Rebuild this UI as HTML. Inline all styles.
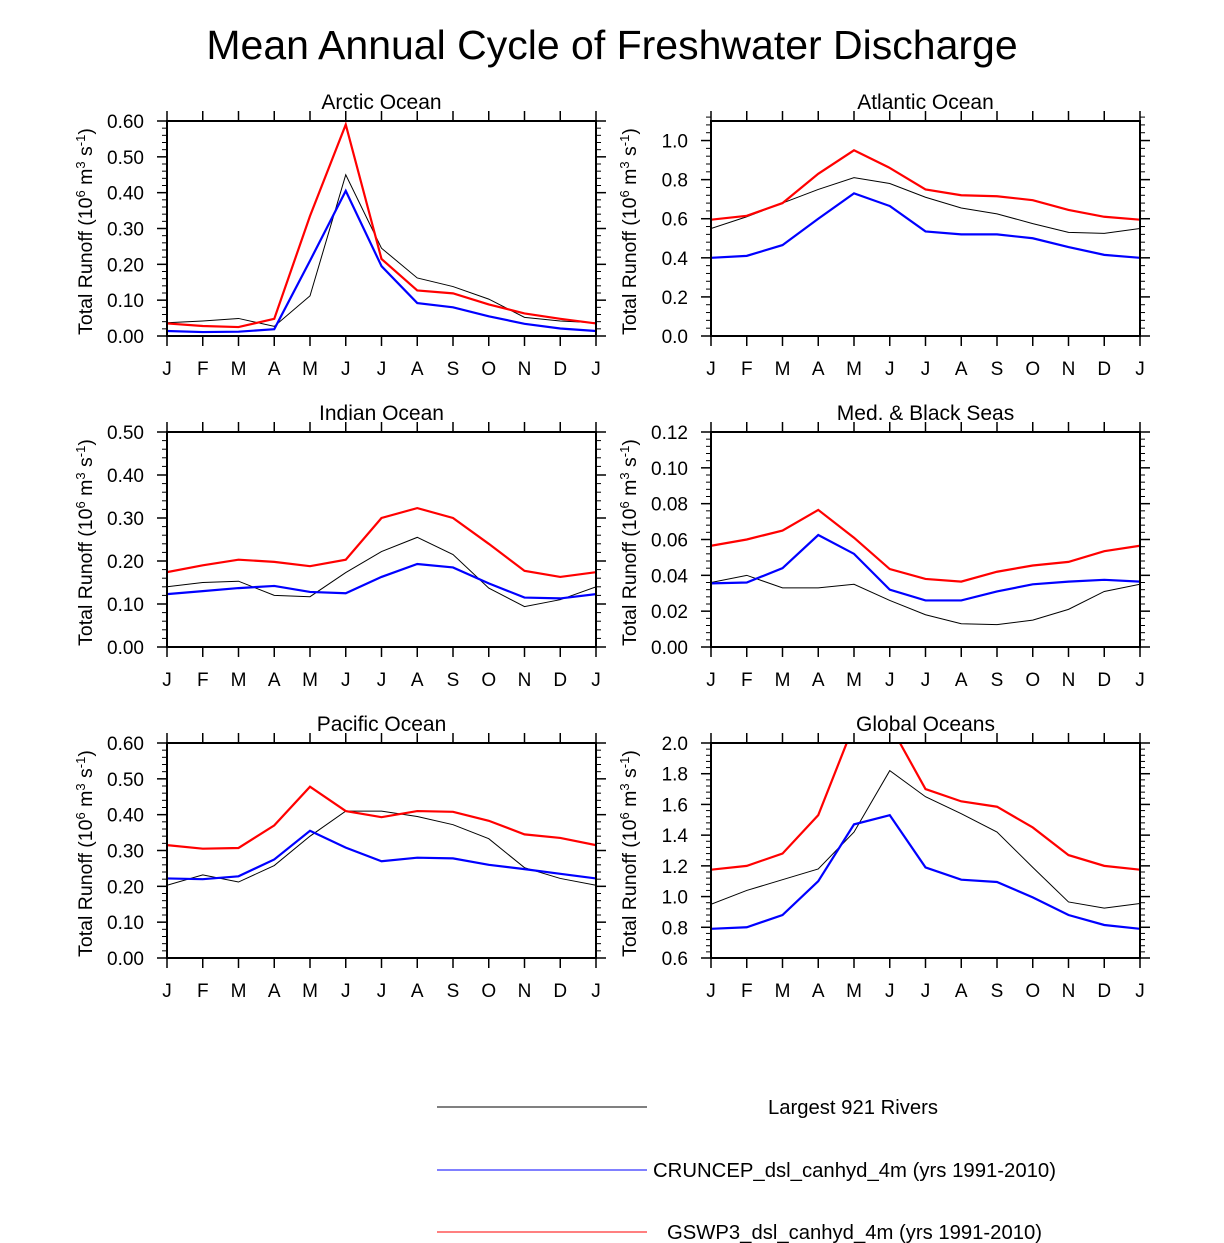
<!DOCTYPE html>
<html><head><meta charset="utf-8"><style>
body{margin:0;background:#fff}
svg{display:block;font-family:"Liberation Sans",sans-serif}
</style></head><body>
<svg id="c" width="1224" height="1243" viewBox="0 0 1224 1243">
<text x="612" y="59" font-size="41" text-anchor="middle">Mean Annual Cycle of Freshwater Discharge</text>
</svg>
<script>
const months=["J","F","M","A","M","J","J","A","S","O","N","D","J"];
const panelTitles=["Arctic Ocean","Atlantic Ocean","Indian Ocean","Med. & Black Seas","Pacific Ocean","Global Oceans"];
const yMins=[0,0,0,0,0,0.6];
const yMaxs=[0.6,1.1,0.5,0.12,0.6,2.0];
const yMajor=[0.1,0.2,0.1,0.02,0.1,0.2];
const yDec=[2,1,2,2,2,1];
const riversData=[
[.037,.042,.049,.027,.112,.45,.245,.162,.138,.103,.052,.042,.037],
[.55,.61,.68,.75,.81,.78,.71,.655,.625,.575,.53,.525,.55],
[.14,.15,.153,.12,.117,.173,.222,.255,.215,.137,.094,.11,.14],
[.036,.04,.033,.033,.035,.026,.018,.013,.0125,.015,.021,.031,.035],
[.203,.232,.212,.258,.34,.41,.41,.395,.372,.333,.252,.222,.203],
[.95,1.04,1.11,1.18,1.42,1.82,1.65,1.54,1.42,1.19,.965,.925,.955]];
const cruData=[
[.014,.011,.012,.019,.21,.405,.195,.092,.08,.055,.034,.021,.014],
[.40,.41,.465,.60,.73,.665,.535,.52,.52,.5,.455,.415,.40],
[.123,.13,.137,.142,.128,.125,.163,.193,.185,.148,.115,.113,.123],
[.0355,.036,.044,.0625,.052,.032,.026,.026,.031,.035,.0365,.0375,.0365],
[.222,.22,.228,.275,.355,.308,.27,.28,.278,.26,.248,.235,.222],
[.79,.80,.88,1.10,1.47,1.53,1.19,1.11,1.095,.995,.88,.815,.79]];
const gswData=[
[.035,.028,.025,.048,.335,.59,.215,.127,.119,.088,.063,.048,.035],
[.595,.615,.68,.83,.95,.86,.75,.72,.715,.695,.645,.61,.595],
[.174,.19,.203,.198,.188,.203,.3,.323,.3,.24,.177,.163,.174],
[.0565,.06,.065,.0765,.061,.0435,.038,.0365,.042,.0455,.0475,.0535,.0565],
[.315,.305,.307,.37,.478,.41,.393,.41,.408,.383,.345,.335,.315],
[1.175,1.20,1.28,1.53,2.12,2.12,1.70,1.62,1.585,1.45,1.27,1.2,1.175]];
const legendLabels=["Largest 921 Rivers","CRUNCEP_dsl_canhyd_4m (yrs 1991-2010)","GSWP3_dsl_canhyd_4m (yrs 1991-2010)"];

const NS="http://www.w3.org/2000/svg";
const svg=document.getElementById("c");
function mk(tag,attrs,parent){const e=document.createElementNS(NS,tag);for(const k in attrs)e.setAttribute(k,attrs[k]);(parent||svg).appendChild(e);return e;}
const lefts=[167,711], tops=[121,432,743], W=429, H=215;
for(let p=0;p<6;p++){
  const x0=lefts[p%2], y0=tops[Math.floor(p/2)];
  const g=mk("g",{});
  
  
  const xs=i=>x0+i*W/12;
  const ys=v=>y0+H-(v-yMins[p])/(yMaxs[p]-yMins[p])*H;
  const cid="clip"+p;
  const cp=mk("clipPath",{id:cid},g);mk("rect",{x:x0,y:y0,width:W,height:H},cp);
  const mi=yMajor[p]/5;
  const n=Math.round((yMaxs[p]-yMins[p])/mi);
  for(let k=0;k<=n;k++){
    const v=yMins[p]+k*mi, y=ys(v), maj=k%5===0, L=maj?10:5;
    mk("line",{x1:x0-L,x2:x0,y1:y,y2:y,stroke:"#000","stroke-width":maj?1.5:1},g);
    mk("line",{x1:x0+W,x2:x0+W+L,y1:y,y2:y,stroke:"#000","stroke-width":maj?1.5:1},g);
    if(maj){const t=mk("text",{x:x0-23,y:y+7,"font-size":19,"text-anchor":"end"},g);t.textContent=v.toFixed(yDec[p]);
      }
  }
  for(let i=0;i<13;i++){
    const x=xs(i);
    mk("line",{x1:x,x2:x,y1:y0+H,y2:y0+H+10,stroke:"#000","stroke-width":1.5},g);
    mk("line",{x1:x,x2:x,y1:y0-10,y2:y0,stroke:"#000","stroke-width":1.5},g);
    const t=mk("text",{x:x,y:y0+H+39,"font-size":19,"text-anchor":"middle"},g);t.textContent=months[i];
    
  }
  const tt=mk("text",{x:x0+W/2,y:y0-12,"font-size":21,"text-anchor":"middle"},g);tt.textContent=panelTitles[p];
  
  const yt=mk("text",{transform:`translate(${x0-75},${y0+H/2+3}) rotate(-90)`,"font-size":19.5,"text-anchor":"middle"},g);
  yt.innerHTML='Total Runoff (10<tspan dy="-7" font-size="13">6</tspan><tspan dy="7"> m</tspan><tspan dy="-7" font-size="13">3</tspan><tspan dy="7"> s</tspan><tspan dy="-7" font-size="13">-1</tspan><tspan dy="7">)</tspan>';
  
  const series=[[riversData[p],"#000",1],[cruData[p],"#0000ff",2.2],[gswData[p],"#ff0000",2.2]];
  const names=['line-rivers','line-cruncep','line-gswp3'];
  series.forEach((s,si)=>{
    const pl=mk("polyline",{points:s[0].map((v,i)=>xs(i)+","+ys(v)).join(" "),fill:"none",stroke:s[1],"stroke-width":s[2],"clip-path":`url(#${cid})`},g);
    
  });
  const fr=mk("rect",{x:x0,y:y0,width:W,height:H,fill:"none",stroke:"#000","stroke-width":2},g);
  
}
const legY=[1107,1170,1232], legCol=["#000","#0000ff","#ff0000"], legTx=[853,653,667], legAnchor=["middle","start","start"];
for(let i=0;i<3;i++){
  const g=mk("g",{});
  
  mk("line",{x1:437,x2:647,y1:legY[i],y2:legY[i],stroke:legCol[i],"stroke-width":1},g);
  const t=mk("text",{x:legTx[i],y:legY[i]+7,"font-size":20,"text-anchor":legAnchor[i],textLength:[170,403,375][i],lengthAdjust:"spacingAndGlyphs"},g);t.textContent=legendLabels[i];
}
</script>
</body></html>
